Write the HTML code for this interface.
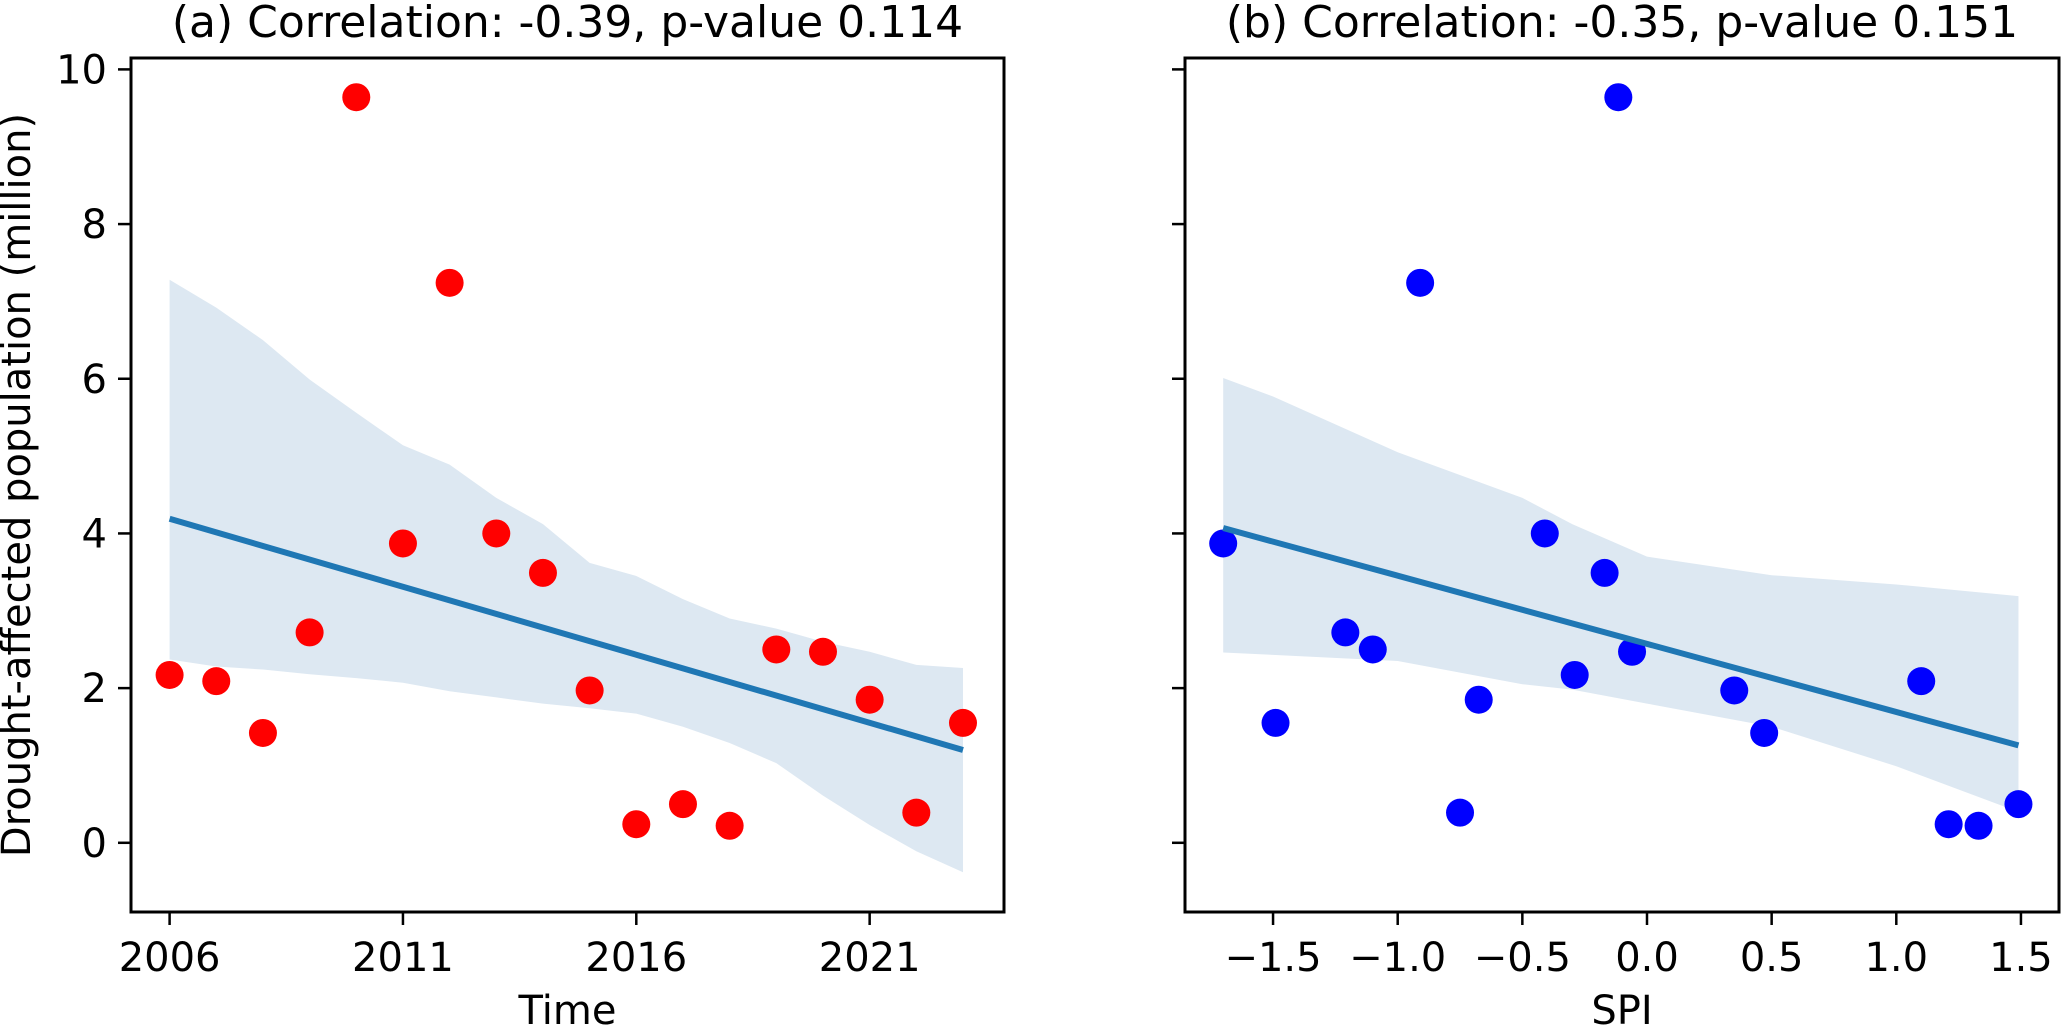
<!DOCTYPE html>
<html><head><meta charset="utf-8"><style>
html,body{margin:0;padding:0;background:#fff;}
svg text{font-family:"DejaVu Sans","Liberation Sans",sans-serif;fill:#000;}
</style></head><body>
<svg id="c" width="2067" height="1025" xmlns="http://www.w3.org/2000/svg"></svg>
<script>
const years=[2006,2007,2008,2009,2010,2011,2012,2013,2014,2015,2016,2017,2018,2019,2020,2021,2022,2023];
const popA=[2.17,2.09,1.42,2.72,9.64,3.87,7.24,4.0,3.49,1.97,0.24,0.5,0.22,2.5,2.47,1.85,0.39,1.55];
const bandAUpper=[7.28,6.92,6.5,5.99,5.56,5.14,4.89,4.46,4.12,3.62,3.45,3.15,2.9,2.77,2.6,2.47,2.3,2.26];
const bandALower=[2.37,2.28,2.24,2.18,2.13,2.07,1.96,1.88,1.80,1.74,1.67,1.5,1.29,1.03,0.61,0.23,-0.11,-0.38];
const fitA=[4.19,1.20];
const spi=[-1.70,-1.49,-1.21,-1.10,-0.91,-0.75,-0.675,-0.41,-0.29,-0.17,-0.115,-0.06,0.35,0.47,1.10,1.21,1.33,1.49];
const popB=[3.87,1.55,2.72,2.5,7.24,0.39,1.85,4.0,2.17,3.49,9.64,2.47,1.97,1.42,2.09,0.24,0.22,0.5];
const bandBx=[-1.70,-1.5,-1.0,-0.5,-0.3,0,0.5,1.0,1.49];
const bandBUpper=[6.01,5.77,5.05,4.46,4.12,3.70,3.46,3.34,3.19];
const bandBLower=[2.46,2.43,2.35,2.05,1.98,1.80,1.50,0.99,0.40];
const fitB=[4.07,1.26];
const yTicks=[0,2,4,6,8,10];
const xTicksA=[2006,2011,2016,2021];
const xTicksB=[-1.5,-1.0,-0.5,0.0,0.5,1.0,1.5];

const NS='http://www.w3.org/2000/svg';
const svg=document.getElementById('c');
function mk(tag,attrs,parent){const e=document.createElementNS(NS,tag);for(const k in attrs)e.setAttribute(k,attrs[k]);(parent||svg).appendChild(e);return e;}
const yTop=58,yBot=912;
const y=v=>842.8-v*77.34;
const xA=v=>169.6+(v-2006)*46.67;
const xB=v=>1647+v*249.3;

function panel(name,L,R,xs,ys,bx,bu,bl,fit,fx,xf,color,xt,fmt,title,xlabel,showY){
  const g=mk('g',{});
  
  
  let d='';
  for(let i=0;i<bx.length;i++)d+=(i?'L':'M')+xf(bx[i])+','+y(bu[i]);
  for(let i=bx.length-1;i>=0;i--)d+='L'+xf(bx[i])+','+y(bl[i]);
  const band=mk('path',{d:d+'Z',fill:'#dde8f2'},g);
  
  
  for(let i=0;i<xs.length;i++){
    const c=mk('circle',{cx:xf(xs[i]),cy:y(ys[i]),r:14,fill:color},g);
    
    
  }
  const ln=mk('line',{x1:xf(fx[0]),y1:y(fit[0]),x2:xf(fx[1]),y2:y(fit[1]),stroke:'#1f77b4','stroke-width':6},g);
  
  
  const fr=mk('rect',{x:L,y:yTop,width:R-L,height:yBot-yTop,fill:'none',stroke:'#000','stroke-width':3},g);
  
  
  yTicks.forEach(v=>{
    mk('line',{x1:L-13,x2:L,y1:y(v),y2:y(v),stroke:'#000','stroke-width':2.5},g);
    if(showY){const t=mk('text',{x:L-24,y:y(v)+14,'text-anchor':'end','font-size':40},g);t.textContent=v;
      
      }
  });
  xt.forEach(v=>{
    mk('line',{x1:xf(v),x2:xf(v),y1:yBot,y2:yBot+13,stroke:'#000','stroke-width':2.5},g);
    const t=mk('text',{x:xf(v),y:971,'text-anchor':'middle','font-size':40},g);t.textContent=fmt(v);
    
    
  });
  const tt=mk('text',{x:(L+R)/2,y:37,'text-anchor':'middle','font-size':44},g);tt.textContent=title;
  
  
  const xl=mk('text',{x:(L+R)/2,y:1024,'text-anchor':'middle','font-size':40},g);xl.textContent=xlabel;
  
  
}
panel('panel-a-time',131,1004,years,popA,years,bandAUpper,bandALower,fitA,[2006,2023],xA,'#ff0000',xTicksA,v=>String(v),'(a) Correlation: -0.39, p-value 0.114','Time',true);
panel('panel-b-spi',1185,2059,spi,popB,bandBx,bandBUpper,bandBLower,fitB,[-1.70,1.49],xB,'#0000ff',xTicksB,v=>v.toFixed(1).replace('-','\u2212'),'(b) Correlation: -0.35, p-value 0.151','SPI',false);
const yl=mk('text',{x:0,y:0,'text-anchor':'middle','font-size':40,transform:'translate(30,485) rotate(-90)'});
yl.textContent='Drought-affected population (million)';


</script>
</body></html>
